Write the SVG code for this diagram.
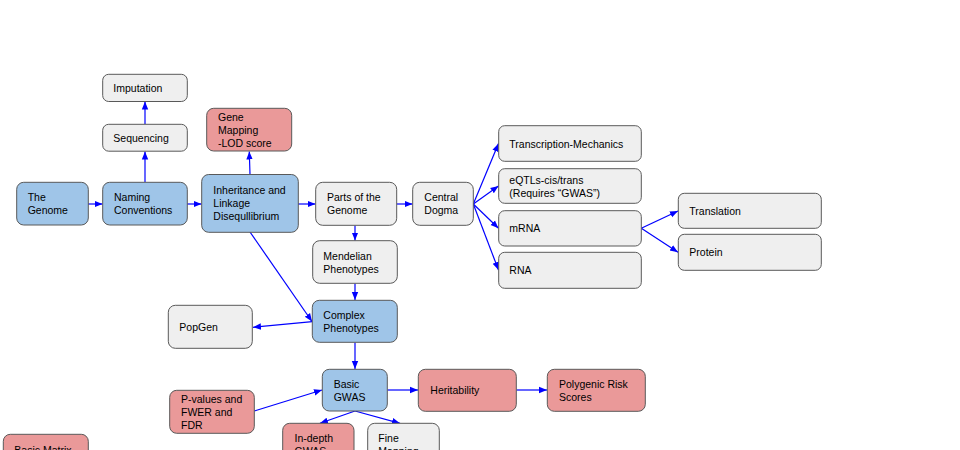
<svg xmlns="http://www.w3.org/2000/svg" width="960" height="450" viewBox="0 0 960 450">
<style>
.n rect{stroke:#595959;stroke-width:1;}
.b rect{fill:#9fc5e8;}
.g rect{fill:#efefef;}
.r rect{fill:#ea9999;}
text{font-family:"Liberation Sans",Arial,sans-serif;font-size:10.5px;fill:#000;}
#edges path{fill:none;stroke:#0000ff;stroke-width:1.2;marker-end:url(#ah);}
</style>
<defs>
<marker id="ah" markerUnits="userSpaceOnUse" markerWidth="8" markerHeight="8" viewBox="0 0 8 8" refX="8" refY="4" orient="auto">
<path d="M0,0.8 L8,4 L0,7.2 Z" fill="#0000ff"/>
</marker>
</defs>
<rect width="960" height="450" fill="#fff"/>
<g id="edges">
<path d="M88,204 L102.5,204"/>
<path d="M187,204 L201.5,204"/>
<path d="M145,182 L145,151.5"/>
<path d="M145,124 L145,101.5"/>
<path d="M250,174.5 L249.3,151.5"/>
<path d="M298,204 L315.5,204"/>
<path d="M396.5,204 L412.5,204"/>
<path d="M355,225.5 L355,240.5"/>
<path d="M355,283.5 L355,300"/>
<path d="M250,232 L312,321.5"/>
<path d="M312.3,321.7 L253,327.3"/>
<path d="M355,342.5 L355,369"/>
<path d="M254.3,411 L322,390"/>
<path d="M387.5,390 L418,390"/>
<path d="M516.5,390 L547,390"/>
<path d="M355,411 L320,423.3"/>
<path d="M355,411 L400,423.3"/>
<path d="M473.3,204 L498.5,143.5"/>
<path d="M473.3,204 L498.5,186"/>
<path d="M473.3,204 L498.5,228.3"/>
<path d="M473.3,204 L498.5,270"/>
<path d="M641.3,228.3 L678,211"/>
<path d="M641.3,228.3 L678,252.3"/>
</g>
<g id="genome" class="n b"><rect x="16.7" y="182.3" width="71.6" height="42.7" rx="7"/><text x="27.7" y="201">The</text><text x="27.7" y="214">Genome</text></g>
<g id="naming" class="n b"><rect x="102.7" y="182.3" width="84.6" height="42.7" rx="7"/><text x="114" y="201">Naming</text><text x="114" y="214">Conventions</text></g>
<g id="sequencing" class="n g"><rect x="102.7" y="124.3" width="84.6" height="26.9" rx="6"/><text x="113.3" y="141.5">Sequencing</text></g>
<g id="imputation" class="n g"><rect x="102.7" y="74.3" width="84.6" height="27.2" rx="6"/><text x="113.3" y="92">Imputation</text></g>
<g id="genemapping" class="n r"><rect x="206.7" y="108.3" width="85" height="42.7" rx="7"/><text x="218" y="121">Gene</text><text x="218" y="134">Mapping</text><text x="218" y="147">-LOD score</text></g>
<g id="inheritance" class="n b"><rect x="201.7" y="174.5" width="96.6" height="57.8" rx="7"/><text x="213.3" y="194">Inheritance and</text><text x="213.3" y="207">Linkage</text><text x="213.3" y="220">Disequllibrium</text></g>
<g id="parts" class="n g"><rect x="315.7" y="182.3" width="81" height="43" rx="7"/><text x="327" y="201">Parts of the</text><text x="327" y="214">Genome</text></g>
<g id="central" class="n g"><rect x="412.7" y="182.3" width="60.6" height="43" rx="7"/><text x="424.3" y="201">Central</text><text x="424.3" y="214">Dogma</text></g>
<g id="transcription" class="n g"><rect x="498.7" y="125.7" width="142.6" height="35.6" rx="6"/><text x="509.3" y="147.5">Transcription-Mechanics</text></g>
<g id="eqtls" class="n g"><rect x="498.7" y="168.7" width="142.6" height="34.6" rx="6"/><text x="509.3" y="183.5">eQTLs-cis/trans</text><text x="509.3" y="196.5">(Requires “GWAS”)</text></g>
<g id="mrna" class="n g"><rect x="498.7" y="210.7" width="142.6" height="35.3" rx="6"/><text x="509.3" y="232.3">mRNA</text></g>
<g id="rna" class="n g"><rect x="498.7" y="252.3" width="142.6" height="36" rx="6"/><text x="509.3" y="274.3">RNA</text></g>
<g id="translation" class="n g"><rect x="678.3" y="193.3" width="143" height="35" rx="6"/><text x="689.3" y="214.8">Translation</text></g>
<g id="protein" class="n g"><rect x="678.3" y="234.3" width="143" height="36" rx="6"/><text x="689.3" y="256.3">Protein</text></g>
<g id="mendelian" class="n g"><rect x="312.7" y="240.7" width="84.6" height="42.6" rx="7"/><text x="323.3" y="259.5">Mendelian</text><text x="323.3" y="272.5">Phenotypes</text></g>
<g id="complex" class="n b"><rect x="312.3" y="300.3" width="85" height="42" rx="7"/><text x="323.3" y="318.8">Complex</text><text x="323.3" y="331.8">Phenotypes</text></g>
<g id="popgen" class="n g"><rect x="168.3" y="305.3" width="84" height="43" rx="7"/><text x="179.3" y="330.8">PopGen</text></g>
<g id="basicgwas" class="n b"><rect x="322.3" y="369.3" width="65" height="41.7" rx="7"/><text x="333.7" y="387.5">Basic</text><text x="333.7" y="400.5">GWAS</text></g>
<g id="heritability" class="n r"><rect x="418.3" y="369.3" width="98" height="42" rx="7"/><text x="430.3" y="394.3">Heritability</text></g>
<g id="prs" class="n r"><rect x="547.3" y="369.3" width="98" height="42" rx="7"/><text x="559" y="387.8">Polygenic Risk</text><text x="559" y="400.8">Scores</text></g>
<g id="pvalues" class="n r"><rect x="169.7" y="390.3" width="84.6" height="43" rx="7"/><text x="181" y="402.8">P-values and</text><text x="181" y="415.8">FWER and</text><text x="181" y="428.8">FDR</text></g>
<g id="indepth" class="n r"><rect x="282.7" y="423.3" width="71.3" height="43" rx="7"/><text x="294.5" y="442.3">In-depth</text><text x="294.5" y="455.3">GWAS</text></g>
<g id="finemapping" class="n g"><rect x="367.7" y="423.3" width="71.6" height="43" rx="7"/><text x="378.3" y="442.3">Fine</text><text x="378.3" y="455.3">Mapping</text></g>
<g id="basicmatrix" class="n r"><rect x="3.3" y="434.3" width="85" height="43" rx="7"/><text x="14.3" y="454">Basic Matrix</text></g>
</svg>
